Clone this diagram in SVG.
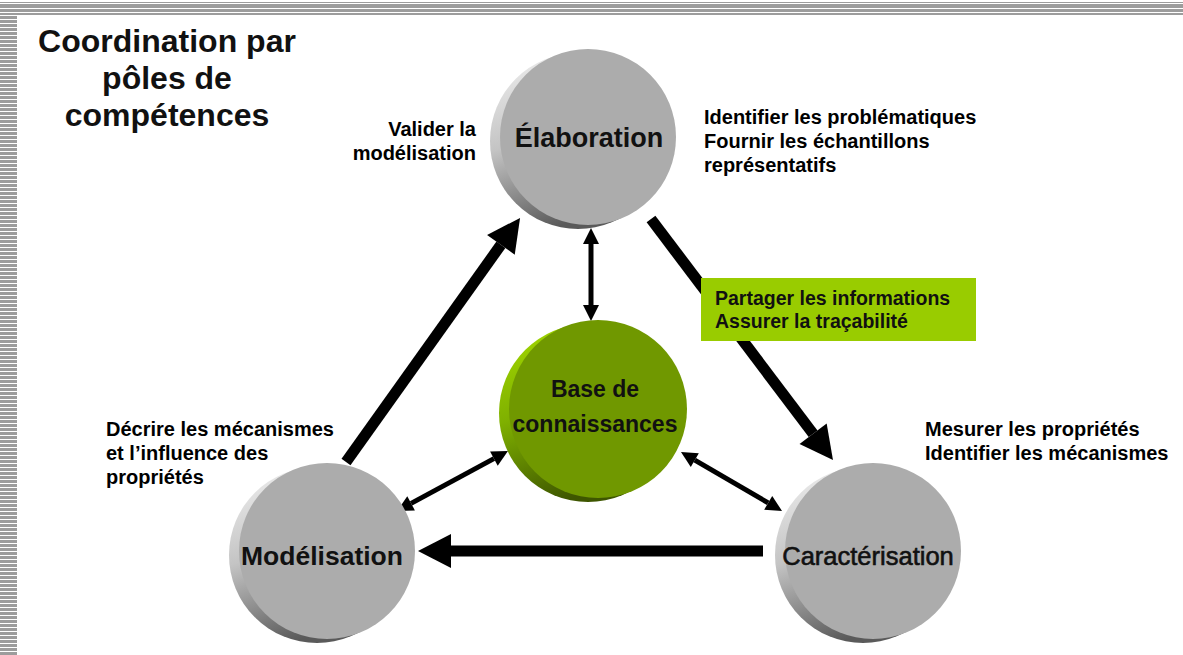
<svg xmlns="http://www.w3.org/2000/svg" width="1183" height="655" viewBox="0 0 1183 655">
<defs>
<pattern id="hstripe" x="0" y="16" width="17" height="4" patternUnits="userSpaceOnUse">
<rect x="0" y="0" width="17" height="3" fill="#9c9c9c"/>
</pattern>
<linearGradient id="grayEdge" x1="0" y1="0" x2="0.35" y2="1">
<stop offset="0" stop-color="#f2f2f2"/>
<stop offset="0.5" stop-color="#c4c4c4"/>
<stop offset="1" stop-color="#5a5a5a"/>
</linearGradient>
<linearGradient id="greenEdge" x1="0" y1="0" x2="0.35" y2="1">
<stop offset="0" stop-color="#a6dc00"/>
<stop offset="0.5" stop-color="#7fb000"/>
<stop offset="1" stop-color="#3e5600"/>
</linearGradient>
<marker id="head" markerUnits="userSpaceOnUse" orient="auto" refX="0" refY="0" markerWidth="40" markerHeight="40" overflow="visible">
<path d="M0,-17 L33,0 L0,17 z" fill="#000"/>
</marker>
<marker id="small" markerUnits="userSpaceOnUse" orient="auto-start-reverse" refX="0" refY="0" markerWidth="20" markerHeight="20" overflow="visible">
<path d="M0,-8 L16,0 L0,8 z" fill="#000"/>
</marker>
<style>
.face{fill:#acacac}
.gface{fill:#709800}
.lbl{font-family:"Liberation Sans",Arial,sans-serif;font-weight:bold;fill:#111}
.ann{font-family:"Liberation Sans",Arial,sans-serif;font-weight:bold;font-size:20px;fill:#000}
.thick{stroke:#000;stroke-width:11;fill:none;marker-end:url(#head)}
.thin{stroke:#000;stroke-width:5;fill:none;marker-start:url(#small);marker-end:url(#small)}
</style>
</defs>
<rect width="1183" height="655" fill="#fff"/>
<g id="border">
<rect x="0" y="2" width="1183" height="1" fill="#9c9c9c"/>
<rect x="0" y="4" width="1183" height="4" fill="#9c9c9c"/>
<rect x="0" y="9" width="1183" height="3" fill="#9c9c9c"/>
<rect x="0" y="13" width="1183" height="2" fill="#9c9c9c"/>
<rect x="0" y="16" width="17" height="639" fill="url(#hstripe)"/>
</g>
<g id="title">
<text class="lbl" x="167" y="52" font-size="32" text-anchor="middle" fill="#000">Coordination par</text>
<text class="lbl" x="167" y="89" font-size="32" text-anchor="middle" fill="#000">pôles de</text>
<text class="lbl" x="167" y="126" font-size="32" text-anchor="middle" fill="#000">compétences</text>
</g>
<g id="connectors">
<line class="thick" x1="346" y1="462" x2="500.9" y2="244.8"/>
<line class="thick" x1="651" y1="219" x2="813.1" y2="433.7"/>
<line class="thick" x1="763" y1="551" x2="451" y2="551" stroke-width="12"/>
<line class="thin" x1="591" y1="244" x2="591" y2="305"/>
<line class="thin" x1="493.9" y1="458.6" x2="411.1" y2="503.4"/>
<line class="thin" x1="694.8" y1="460.1" x2="768.2" y2="502.9"/>
</g>
<g id="elaboration">
<circle cx="578" cy="141" r="88" fill="url(#grayEdge)"/>
<circle class="face" cx="588" cy="137" r="88"/>
<text class="lbl" x="589" y="147" font-size="27" text-anchor="middle">Élaboration</text>
</g>
<g id="base">
<circle cx="588" cy="413" r="89" fill="url(#greenEdge)"/>
<circle class="gface" cx="598" cy="409" r="89"/>
<text class="lbl" x="595" y="397" font-size="23" text-anchor="middle">Base de</text>
<text class="lbl" x="595" y="432" font-size="23" text-anchor="middle">connaissances</text>
</g>
<g id="modelisation">
<circle cx="317" cy="555" r="88" fill="url(#grayEdge)"/>
<circle class="face" cx="327" cy="551" r="88"/>
<text class="lbl" x="322" y="565" font-size="26.5" text-anchor="middle">Modélisation</text>
</g>
<g id="caracterisation">
<circle cx="863" cy="555" r="88" fill="url(#grayEdge)"/>
<circle class="face" cx="873" cy="551" r="88"/>
<text class="lbl" x="868" y="565" font-size="25.5" text-anchor="middle" stroke="#111" stroke-width="0.6" style="font-weight:normal">Caractérisation</text>
</g>
<g id="info-box">
<rect x="701" y="278" width="275" height="63" fill="#99cc00"/>
<text class="lbl" x="715" y="305" font-size="19.5" fill="#1a1a00">Partager les informations</text>
<text class="lbl" x="715" y="328" font-size="19.5" fill="#1a1a00">Assurer la traçabilité</text>
</g>
<g id="annotations">
<text class="ann" x="476" y="136" text-anchor="end">Valider la</text>
<text class="ann" x="476" y="160" text-anchor="end">modélisation</text>
<text class="ann" x="704" y="124">Identifier les problématiques</text>
<text class="ann" x="704" y="148">Fournir les échantillons</text>
<text class="ann" x="704" y="172">représentatifs</text>
<text class="ann" x="106" y="436">Décrire les mécanismes</text>
<text class="ann" x="106" y="460">et l’influence des</text>
<text class="ann" x="106" y="484">propriétés</text>
<text class="ann" x="925" y="436">Mesurer les propriétés</text>
<text class="ann" x="925" y="460">Identifier les mécanismes</text>
</g>
</svg>
